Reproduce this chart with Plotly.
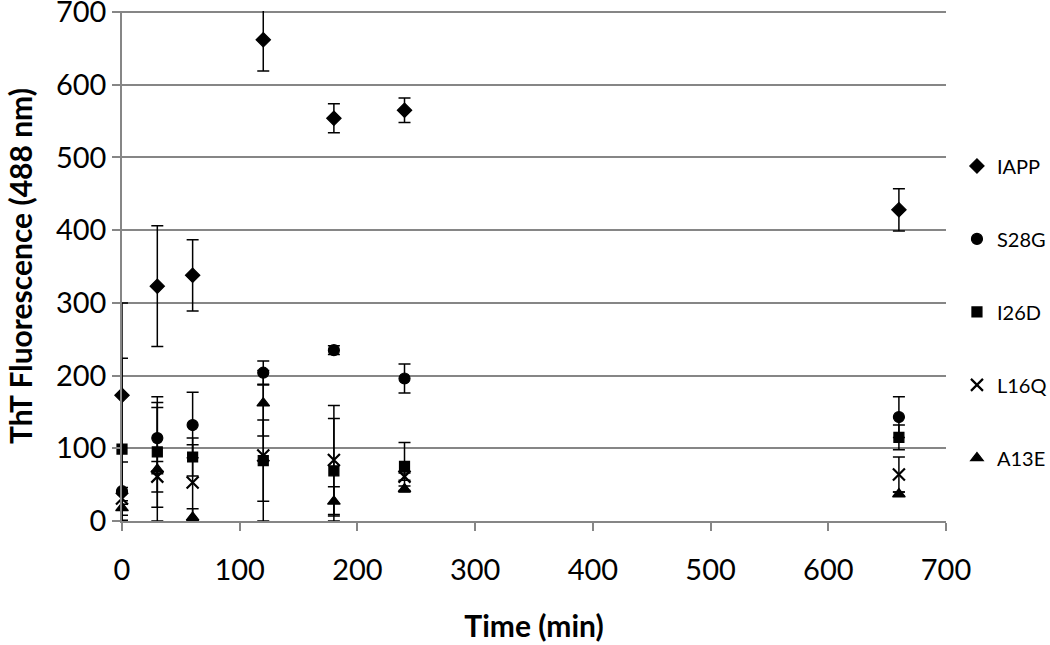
import plotly.graph_objects as go

# ---- data ----
time_min = [0, 30, 60, 120, 180, 240, 660]

iapp = [173, 323, 338, 662, 554, 565, 428]
iapp_err = [127, 83, 49, 43, 20, 17, 29]

s28g = [41, 114, 132, 204, 235, 196, 143]
s28g_err = [40, 49, 45, 16, 6, 20, 28]

i26d = [99, 95, 88, 83, 69, 75, 115]
i26d_err = [125, 76, 26, 56, 72, 33, 17]

l16q = [31, 61, 53, 90, 84, 61, 64]
l16q_err = [8, 21, 52, 97, 75, 5, 24]

a13e = [18, 71, 5, 162, 27, 44, 37]
a13e_err = [10, 85, 12, 45, 20, 4, 3]

series_names = ["IAPP", "S28G", "I26D", "L16Q", "A13E"]
series_vals = [iapp, s28g, i26d, l16q, a13e]
series_errs = [iapp_err, s28g_err, i26d_err, l16q_err, a13e_err]

x_ticks = [0, 100, 200, 300, 400, 500, 600, 700]
y_ticks = [0, 100, 200, 300, 400, 500, 600, 700]

# ---- styles ----
symbols = ["diamond", "circle", "square", "x-thin-open", "triangle-up"]
sizes = [11, 11, 10, 12, 11]
line_w = [1.2, 1.2, 1.2, 2.2, 1.2]
FONT = "Lato"
GRAY = "#868686"

fig = go.Figure()
for i, (name, vals, errs) in enumerate(zip(series_names, series_vals, series_errs)):
    lower = [min(e, v) for e, v in zip(errs, vals)]
    fig.add_trace(go.Scatter(
        x=time_min, y=vals, name=name, mode="markers",
        legendgroup=name,
        cliponaxis=False,
        marker=dict(symbol=symbols[i], size=sizes[i], color="black",
                    line=dict(color="black", width=line_w[i])),
        error_y=dict(type="data", array=errs, arrayminus=lower, symmetric=False,
                     color="black", thickness=1.5, width=6),
    ))

fig.update_layout(
    width=1050, height=645,
    margin=dict(l=122, r=104, t=11, b=124, autoexpand=False),
    paper_bgcolor="white", plot_bgcolor="white",
    font=dict(family=FONT, color="black"),
    showlegend=True,
    legend=dict(x=1.0133, y=0.41, xanchor="left", yanchor="middle",
                font=dict(family=FONT, size=20, color="black"),
                tracegroupgap=44, bgcolor="rgba(0,0,0,0)",
                itemwidth=30),
    xaxis=dict(range=[0, 700], tickvals=x_ticks, ticktext=[str(t) for t in x_ticks],
               automargin=False, ticklabeloverflow="allow",
               showgrid=False, zeroline=False, showline=True, linecolor=GRAY, linewidth=1.5,
               ticks="outside", ticklen=8, tickcolor=GRAY, tickwidth=1.5,
               ticklabelstandoff=14,
               tickfont=dict(family=FONT, size=29, color="black"),
               title=dict(text="<b>Time (min)</b>", font=dict(family=FONT, size=30, color="black"),
                          standoff=31)),
    yaxis=dict(range=[0, 701.5], tickvals=y_ticks, ticktext=[str(t) for t in y_ticks],
               automargin=False, ticklabeloverflow="allow",
               showgrid=True, gridcolor=GRAY, gridwidth=1.5,
               zeroline=False, showline=True, linecolor=GRAY, linewidth=1.5,
               ticks="outside", ticklen=8, tickcolor=GRAY, tickwidth=1.5,
               tickfont=dict(family=FONT, size=29, color="black"),
               title=dict(text="<b>ThT Fluorescence (488 nm)</b>",
                          font=dict(family=FONT, size=30, color="black"), standoff=14)),
)

# remove the default 8px page margin so the figure fills the window exactly
fig.write_html("out.html", config={"displayModeBar": False},
               post_script="document.body.style.margin='0';")
